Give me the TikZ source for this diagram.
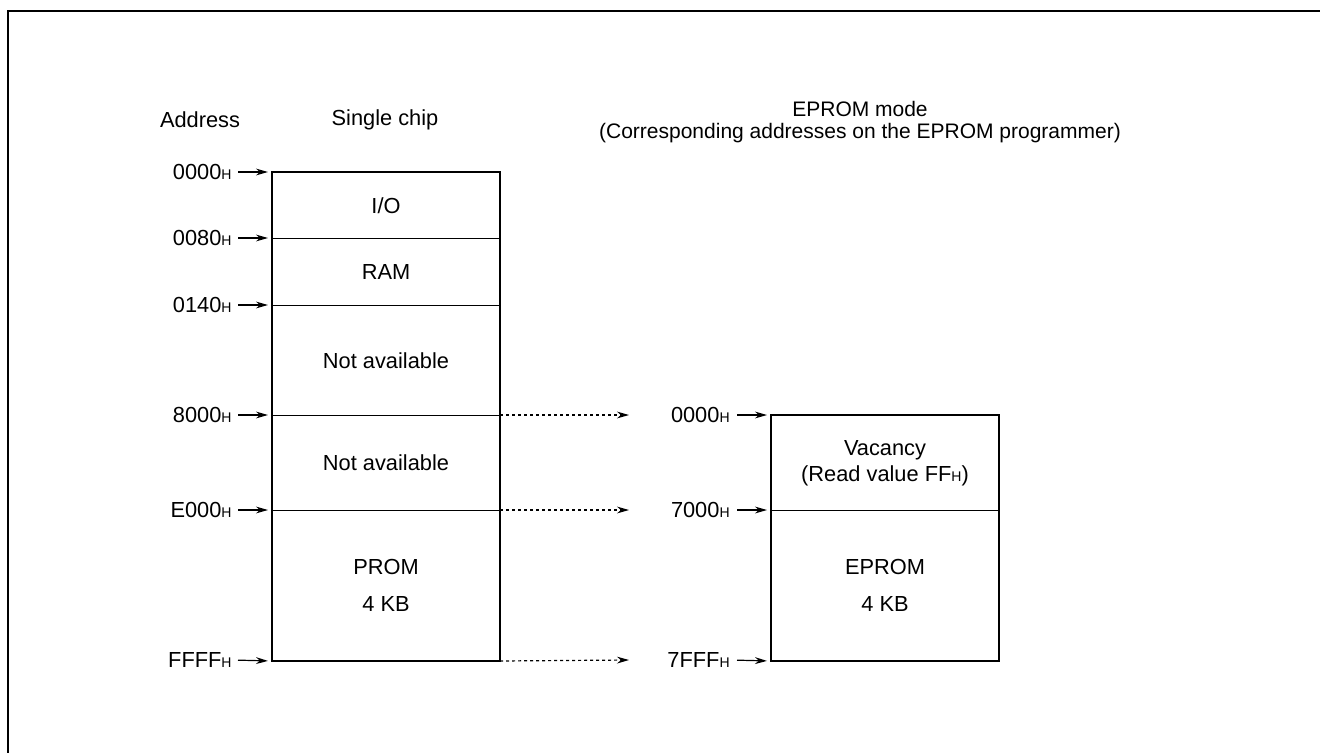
\documentclass[tikz,border=0pt]{standalone}
\usepackage{fontspec}
\setmainfont{Liberation Sans}
\usetikzlibrary{arrows.meta}
\newcommand{\hx}{{\fontsize{7pt}{8pt}\selectfont H}}

\begin{document}
\begin{tikzpicture}[x=0.5pt, y=-0.5pt,
    every node/.style={font=\fontsize{10.9pt}{13pt}\selectfont},
    seg/.style={draw, line width=0.5pt, rectangle, align=center, minimum width=113.5pt, inner sep=0pt, anchor=north west},
    addr/.style={inner sep=0pt, anchor=east},
    tip/.style={-{Stealth[length=6pt, width=3.4pt]}, line width=0.6pt},
    dots/.style={tip, dash pattern=on 1.5pt off 1.5pt}]
    \useasboundingbox (0,0) rectangle (1320,753);
    \draw[line width=0.8pt] (8,753) -- (8,11) -- (1320,11);

    \node (addr head) at (200,120) {Address};
    \node (chip head) at (385,120) {Single chip};
    \node[align=center, font=\fontsize{10.5pt}{11pt}\selectfont] (mode head) at (860,122) {EPROM mode\\(Corresponding addresses on the EPROM programmer)};

    % single chip map
    \node[seg, minimum height=33pt] (io) at (272,172) {I/O};
    \node[seg, minimum height=33.5pt] (ram) at (272,238) {RAM};
    \node[seg, minimum height=55pt] (na1) at (272,305) {Not available};
    \node[seg, minimum height=47.5pt] (na2) at (272,415) {Not available};
    \node[seg, minimum height=75pt] (prom) at (272,510) {PROM\\[5.5pt]4 KB};
    \draw[line width=1pt] (io.north west) rectangle (prom.south east);

    % EPROM mode map
    \node[seg, minimum height=47.5pt] (vacancy) at (771,415) {Vacancy\\(Read value FF\hx)};
    \node[seg, minimum height=75pt] (eprom) at (771,510) {EPROM\\[5.5pt]4 KB};
    \draw[line width=1pt] (vacancy.north west) rectangle (eprom.south east);

    \node[addr] (a0) at (232,172) {0000\hx};
    \node[addr] (a1) at (232,238) {0080\hx};
    \node[addr] (a2) at (232,305) {0140\hx};
    \node[addr] (a3) at (232,415) {8000\hx};
    \node[addr] (a4) at (232,510) {E000\hx};
    \node[addr] (a5) at (232,660) {FFFF\hx};

    \node[addr] (b0) at (730,415) {0000\hx};
    \node[addr] (b1) at (730,510) {7000\hx};
    \node[addr] (b2) at (730,660) {7FFF\hx};

    \draw[tip, shorten <=3pt, shorten >=2pt] (a0.east) -- (io.north west);
    \draw[tip, shorten <=3pt, shorten >=2pt] (a1.east) -- (ram.north west);
    \draw[tip, shorten <=3pt, shorten >=2pt] (a2.east) -- (na1.north west);
    \draw[tip, shorten <=3pt, shorten >=2pt] (a3.east) -- (na2.north west);
    \draw[tip, shorten <=3pt, shorten >=2pt] (a4.east) -- (prom.north west);
    \draw[tip, shorten <=3pt, shorten >=2pt] (a5.east) -- (prom.south west);

    \draw[tip, shorten <=3.5pt, shorten >=2pt] (b0.east) -- (vacancy.north west);
    \draw[tip, shorten <=3.5pt, shorten >=2pt] (b1.east) -- (eprom.north west);
    \draw[tip, shorten <=3.5pt, shorten >=2pt] (b2.east) -- (eprom.south west);

    \coordinate (d0) at (629,415);
    \coordinate (d1) at (629,510);
    \coordinate (d2) at (629,660);
    \draw[dots] (na2.north east) -- (d0);
    \draw[dots] (prom.north east) -- (d1);
    \draw[dots] (prom.south east) -- (d2);
\end{tikzpicture}
\end{document}
